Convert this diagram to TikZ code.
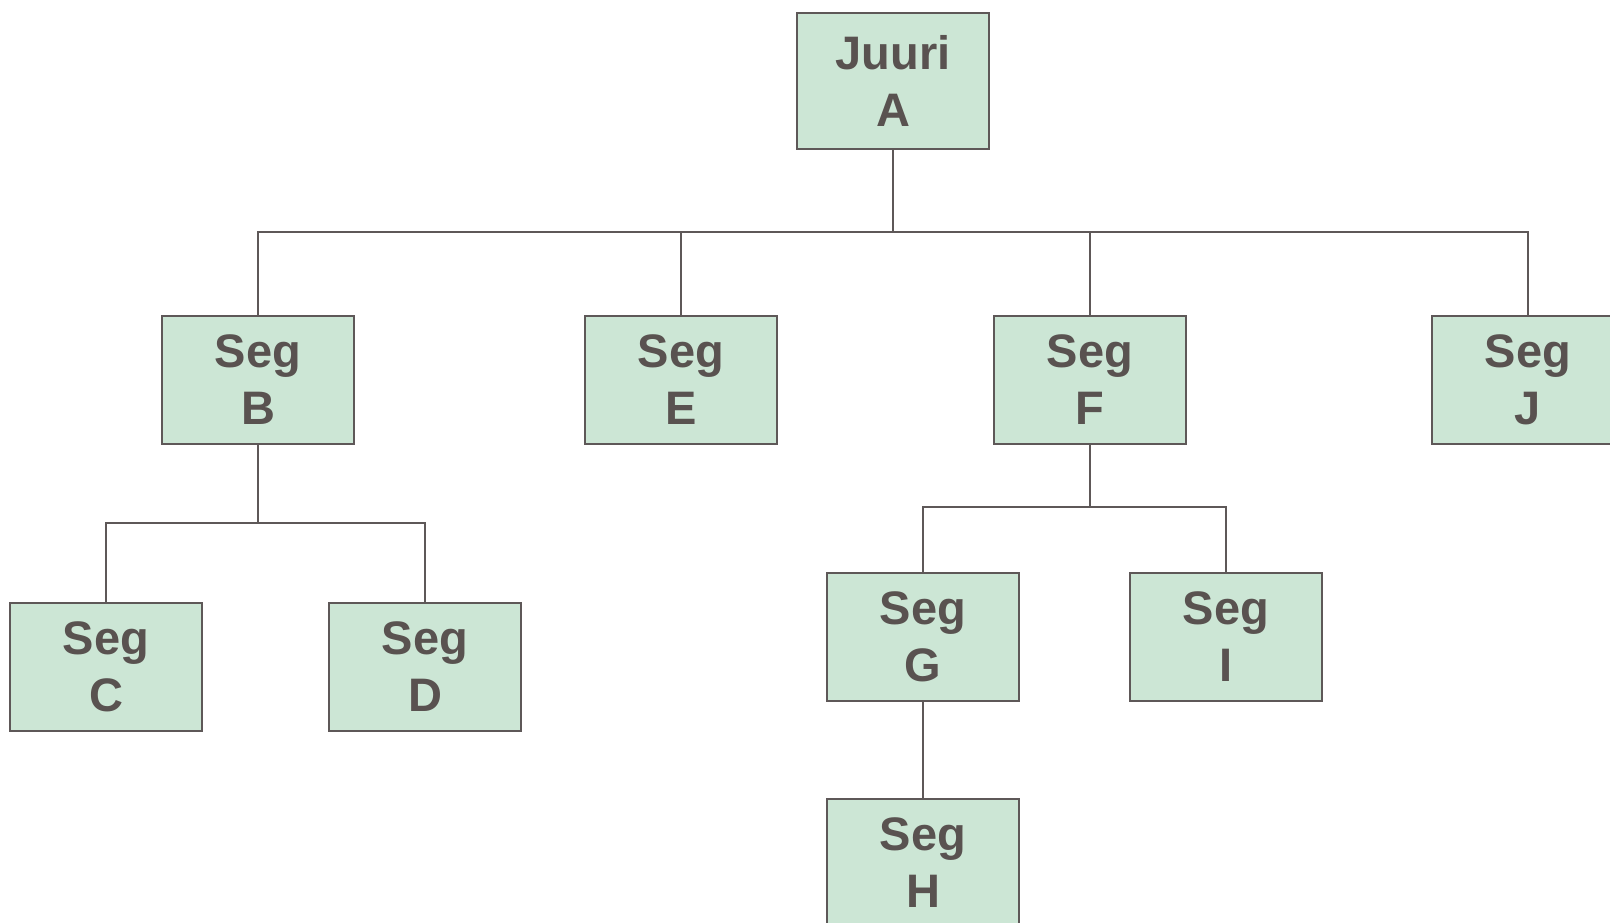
\documentclass[tikz,border=0pt]{standalone}
\usepackage{fontspec}
\setmainfont{Liberation Sans}
\definecolor{boxfill}{HTML}{CCE6D5}
\definecolor{boxline}{HTML}{5E5858}
\definecolor{boxtext}{HTML}{595250}
\begin{document}
\begin{tikzpicture}[x=1pt,y=-1pt,
  seg/.style={draw=boxline, line width=2pt, fill=boxfill, text=boxtext,
    minimum width=192pt, minimum height=128pt, inner sep=0pt, align=center,
    font=\fontsize{47}{57}\selectfont\bfseries},
  conn/.style={draw=boxline, line width=2pt}]
\useasboundingbox (0,0) rectangle (1610,923);
\node[seg, minimum height=136pt] (A) at (893,81) {Juuri\\A};
\node[seg] (B) at (258,379.5) {Seg\\B};
\node[seg] (E) at (681,379.5) {Seg\\E};
\node[seg] (F) at (1090,379.5) {Seg\\F};
\node[seg] (J) at (1528,379.5) {Seg\\J};
\node[seg] (C) at (106,667) {Seg\\C};
\node[seg] (D) at (425,667) {Seg\\D};
\node[seg] (G) at (923,637) {Seg\\G};
\node[seg] (I) at (1226,637) {Seg\\I};
\node[seg] (H) at (923,863) {Seg\\H};
\coordinate (ab) at (893,232);
\coordinate (bb) at (258,523);
\coordinate (fb) at (1090,507);
\draw[conn] (A.south) -- (ab);
\draw[conn] (ab) -| (B.north);
\draw[conn] (ab) -| (E.north);
\draw[conn] (ab) -| (F.north);
\draw[conn] (ab) -| (J.north);
\draw[conn] (B.south) -- (bb);
\draw[conn] (bb) -| (C.north);
\draw[conn] (bb) -| (D.north);
\draw[conn] (F.south) -- (fb);
\draw[conn] (fb) -| (G.north);
\draw[conn] (fb) -| (I.north);
\draw[conn] (G.south) -- (H.north);
\end{tikzpicture}
\end{document}
